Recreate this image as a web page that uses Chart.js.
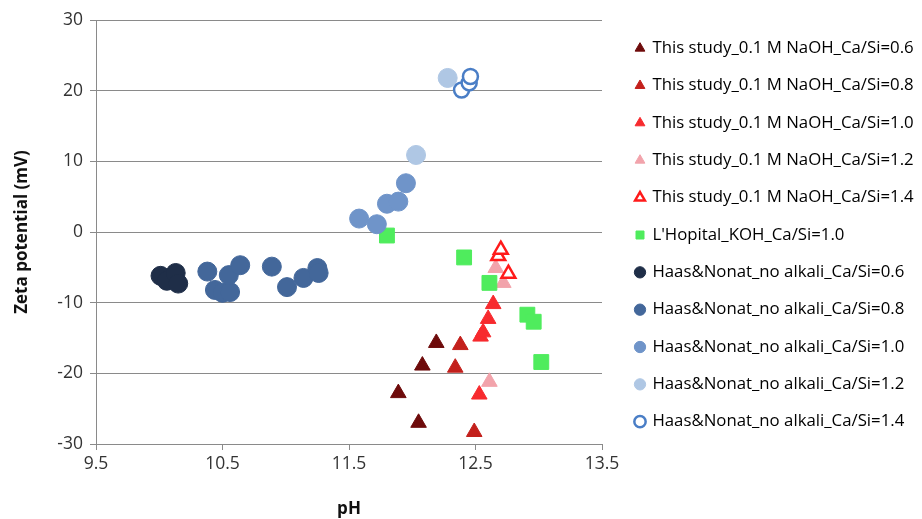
<!DOCTYPE html>
<html><head><meta charset="utf-8">
<script src="https://cdn.jsdelivr.net/npm/chart.js@4.4.1/dist/chart.umd.min.js"></script>
<style>html,body{margin:0;padding:0;background:#fff;}#wrap{width:922px;height:519px;}</style>
</head><body><div id="wrap"><canvas id="c" width="922" height="519"></canvas></div>
<script>
// ---- data ----
const seriesNames = [
  "This study_0.1 M NaOH_Ca/Si=0.6",
  "This study_0.1 M NaOH_Ca/Si=0.8",
  "This study_0.1 M NaOH_Ca/Si=1.0",
  "This study_0.1 M NaOH_Ca/Si=1.2",
  "This study_0.1 M NaOH_Ca/Si=1.4",
  "L'Hopital_KOH_Ca/Si=1.0",
  "Haas&Nonat_no alkali_Ca/Si=0.6",
  "Haas&Nonat_no alkali_Ca/Si=0.8",
  "Haas&Nonat_no alkali_Ca/Si=1.0",
  "Haas&Nonat_no alkali_Ca/Si=1.2",
  "Haas&Nonat_no alkali_Ca/Si=1.4"
];
const ts06X = [11.89, 12.05, 12.08, 12.19];
const ts06Y = [-22.8, -27.0, -18.9, -15.7];
const ts08X = [12.34, 12.38, 12.49];
const ts08Y = [-19.2, -16.0, -28.3];
const ts10X = [12.53, 12.54, 12.56, 12.60, 12.64];
const ts10Y = [-23.0, -14.8, -14.2, -12.3, -10.2];
const ts12X = [12.61, 12.66, 12.72];
const ts12Y = [-21.2, -5.1, -7.2];
const ts14X = [12.68, 12.70, 12.76];
const ts14Y = [-3.4, -2.5, -5.9];
const lhX = [11.80, 12.41, 12.61, 12.91, 12.96, 13.02];
const lhY = [-0.5, -3.6, -7.2, -11.7, -12.7, -18.4];
const hn06X = [10.01, 10.06, 10.13, 10.15];
const hn06Y = [-6.2, -6.9, -5.8, -7.3];
const hn08X = [10.38, 10.44, 10.50, 10.56, 10.55, 10.64, 10.89, 11.01, 11.14, 11.25, 11.26];
const hn08Y = [-5.6, -8.2, -8.6, -8.5, -6.1, -4.7, -4.9, -7.8, -6.5, -5.1, -5.8];
const hn10X = [11.58, 11.72, 11.80, 11.89, 11.95];
const hn10Y = [1.9, 1.1, 4.0, 4.3, 6.9];
const hn12X = [12.03, 12.28];
const hn12Y = [10.9, 21.8];
const hn14X = [12.39, 12.45, 12.46];
const hn14Y = [20.1, 21.1, 22.0];
const xTicks = [9.5, 10.5, 11.5, 12.5, 13.5];
const yTicks = [-30, -20, -10, 0, 10, 20, 30];
const xTitle = "pH";
const yTitle = "Zeta potential (mV)";

// ---- styling ----
const FONT = "'Open Sans', 'DejaVu Sans', sans-serif";
const GRID = '#8a8a8a';
const pts = (xs, ys) => xs.map((x, i) => ({x: x, y: ys[i]}));
const styles = [
  {pointStyle:'triangle', bg:'#6e0b0b', bc:'#6e0b0b', r:9, bw:1},
  {pointStyle:'triangle', bg:'#c3201c', bc:'#c3201c', r:9, bw:1},
  {pointStyle:'triangle', bg:'#f72a2e', bc:'#f72a2e', r:9, bw:1},
  {pointStyle:'triangle', bg:'#f2a3ab', bc:'#f2a3ab', r:9, bw:1},
  {pointStyle:'triangle', bg:'#ffffff', bc:'#ff1a1a', r:8, bw:2.5},
  {pointStyle:'rect', bg:'#4fec5d', bc:'#4fec5d', r:10.5, bw:1},
  {pointStyle:'circle', bg:'#1f2e48', bc:'#1f2e48', r:9.5, bw:1},
  {pointStyle:'circle', bg:'#43679a', bc:'#43679a', r:9.5, bw:1},
  {pointStyle:'circle', bg:'#6f94c9', bc:'#6f94c9', r:9.5, bw:1},
  {pointStyle:'circle', bg:'#afc7e4', bc:'#afc7e4', r:9.5, bw:1},
  {pointStyle:'circle', bg:'#ffffff', bc:'#4a7ec6', r:7.5, bw:2.5}
];
const seriesData = [
  pts(ts06X, ts06Y), pts(ts08X, ts08Y), pts(ts10X, ts10Y), pts(ts12X, ts12Y), pts(ts14X, ts14Y),
  pts(lhX, lhY),
  pts(hn06X, hn06Y), pts(hn08X, hn08Y), pts(hn10X, hn10Y), pts(hn12X, hn12Y), pts(hn14X, hn14Y)
];
const datasets = seriesNames.map((name, i) => ({
  label: name,
  data: seriesData[i],
  order: -i,
  pointStyle: styles[i].pointStyle,
  backgroundColor: styles[i].bg,
  borderColor: styles[i].bc,
  borderWidth: styles[i].bw,
  pointRadius: styles[i].r,
  pointHoverRadius: styles[i].r,
  showLine: false
}));

const LEG_FS = 16.8;
const LEG_PAD = 37.34 - LEG_FS;
const LEG_MAXW = 290;          // legend box width before the shift
const PAD_RIGHT = 921 - 601 - LEG_MAXW;
const LEG_SHIFT = 635 - 601 - LEG_PAD;
const legendShift = {
  id: 'legendShift',
  afterLayout(chart) {
    const l = chart.legend;
    if (l) { l.left += LEG_SHIFT; l.right = chart.width; l.width = l.right - l.left; }
  }
};

Chart.defaults.font.family = FONT;
Chart.defaults.color = '#333';

new Chart(document.getElementById('c'), {
  type: 'scatter',
  data: { datasets: datasets },
  plugins: [legendShift],
  options: {
    responsive: false,
    animation: false,
    layout: { padding: { left: 0, top: 0, right: PAD_RIGHT, bottom: 0 } },
    plugins: {
      title: { display: true, text: ' ', fullSize: false, font: { size: 10, lineHeight: 1 }, padding: { top: 10, bottom: 0 } },
      tooltip: { enabled: false },
      legend: {
        position: 'right',
        align: 'start',
        maxWidth: LEG_MAXW,
        title: { display: true, text: ' ', font: { size: 14, lineHeight: 1 }, padding: { top: 48.3 - 14 - LEG_PAD - LEG_FS / 2, bottom: 0 } },
        labels: {
          usePointStyle: true,
          boxHeight: 8,
          boxWidth: 8,
          padding: LEG_PAD,
          color: '#000',
          font: { size: LEG_FS, family: FONT },
          sort: (a, b) => a.datasetIndex - b.datasetIndex
        }
      }
    },
    scales: {
      x: {
        type: 'linear',
        min: 9.5, max: 13.5,
        afterBuildTicks: (s) => { s.ticks = xTicks.map(v => ({value: v})); },
        afterFit: (s) => { s.height = 75; },
        grid: { drawOnChartArea: false, drawTicks: true, tickLength: 6, color: GRID },
        border: { display: true, color: GRID },
        ticks: { padding: 4, color: '#333', font: { size: 17.5 } },
        title: { display: true, text: xTitle, color: '#111', font: { size: 17, weight: 'bold' }, padding: { top: 0, bottom: 0 } }
      },
      y: {
        type: 'linear',
        min: -30, max: 30,
        afterBuildTicks: (s) => { s.ticks = yTicks.map(v => ({value: v})); },
        afterFit: (s) => { s.width = 96; },
        grid: { drawOnChartArea: true, drawTicks: true, tickLength: 6, color: GRID },
        border: { display: true, color: GRID },
        ticks: { padding: 7, color: '#333', font: { size: 17.5 } },
        title: { display: true, text: yTitle, color: '#111', font: { size: 17, weight: 'bold' }, padding: { top: 12, bottom: 0 } }
      }
    }
  }
});
</script></body></html>
